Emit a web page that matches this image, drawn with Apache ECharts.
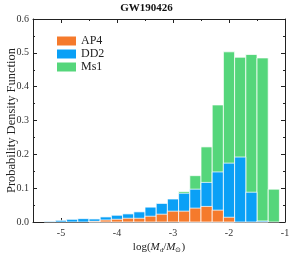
<!DOCTYPE html>
<html><head><meta charset="utf-8">
<script src="https://cdn.jsdelivr.net/npm/echarts@6/dist/echarts.min.js"></script>
<style>html,body{margin:0;padding:0;background:#fff}#c{width:293px;height:256px}</style>
</head><body><div id="c"></div>
<script>
const binEdges = [-5.3,-5.1,-4.9,-4.7,-4.5,-4.3,-4.1,-3.9,-3.7,-3.5,-3.3,-3.1,-2.9,-2.7,-2.5,-2.3,-2.1,-1.9,-1.7,-1.5,-1.3,-1.1];
const ap4 = [0,0,0,0,0.002,0.006,0.008,0.011,0.011,0.017,0.023,0.032,0.032,0.041,0.046,0.035,0.014,0,0,0,0];
const dd2 = [0.002,0.005,0.008,0.010,0.009,0.015,0.020,0.024,0.030,0.044,0.055,0.068,0.085,0.097,0.117,0.148,0.174,0.192,0.088,0.003,0];
const ms1 = [0,0,0,0,0,0,0,0,0,0,0,0,0.090,0.137,0.222,0.346,0.503,0.487,0.495,0.485,0.097];
const majorX = [-5,-4,-3,-2,-1];
const minorX = [-5.5,-4.5,-3.5,-2.5,-1.5];
const seriesNames = ['AP4','DD2','Ms1'];
const colors = {AP4:'#F57A2C', DD2:'#0AA0F6', Ms1:'#55D67B'};

const font = 'Liberation Serif';
function toData(vals){ return vals.map((v,i)=>[binEdges[i], binEdges[i+1], v]); }
function mk(name, vals){
  return {
    name, type:'custom', xAxisIndex:0, yAxisIndex:0,
    itemStyle:{color:colors[name]},
    encode:{x:[0,1], y:2},
    data: toData(vals),
    renderItem(params, api){
      const x0=api.value(0), x1=api.value(1), y=api.value(2);
      if (y<=0) return null;
      const p0=api.coord([x0,y]), p1=api.coord([x1,0]);
      return {type:'rect', shape:{x:p0[0], y:p0[1], width:p1[0]-p0[0], height:p1[1]-p0[1]},
        style:{fill:colors[name], stroke:'rgba(255,255,255,0.75)', lineWidth:1}};
    }
  };
}
const axLine = {show:true, lineStyle:{color:'#222', width:1}};
const xBase = {type:'value', min:-5.5, max:-1, splitLine:{show:false}, axisLine:axLine};
const chart = echarts.init(document.getElementById('c'));
chart.setOption({
  animation:false,
  textStyle:{fontFamily:font},
  title:{text:'GW190426', left:'center', top:-2, textStyle:{fontFamily:font, fontWeight:'bold', fontSize:11, color:'#111'}},
  legend:{data:seriesNames, orient:'vertical', left:52, top:30, icon:'rect', itemWidth:19, itemHeight:9, itemGap:1,
    textStyle:{fontFamily:font, fontSize:12, color:'#222'}},
  grid:{left:33, right:8, top:19, bottom:34, containLabel:false, outerBoundsMode:'none'},
  xAxis:[
    Object.assign({}, xBase, {position:'bottom', name:'{n|log(}{i|M}{s|d}{n|/}{i|M}{s|⊙}{n|)}', nameLocation:'middle', nameGap:19, nameMoveOverlap:false,
      nameTextStyle:{rich:{n:{fontFamily:font,fontSize:11,color:'#222'}, i:{fontFamily:font,fontSize:11,fontStyle:'italic',color:'#222'}, s:{fontFamily:font,fontSize:7,color:'#222',verticalAlign:'bottom',padding:[6,0,0,0]}}},
      axisTick:{show:true, inside:true, length:4, customValues:majorX, lineStyle:{color:'#222'}},
      axisLabel:{customValues:majorX, fontFamily:font, fontSize:10, color:'#333', margin:6, formatter:v=>String(v)}}),
    Object.assign({}, xBase, {position:'bottom', axisLine:{show:false},
      axisTick:{show:true, inside:true, length:2, customValues:minorX, lineStyle:{color:'#222'}}, axisLabel:{show:false}}),
    Object.assign({}, xBase, {position:'top',
      axisTick:{show:true, inside:true, length:4, customValues:majorX, lineStyle:{color:'#222'}}, axisLabel:{show:false}}),
    Object.assign({}, xBase, {position:'top', axisLine:{show:false},
      axisTick:{show:true, inside:true, length:2, customValues:minorX, lineStyle:{color:'#222'}}, axisLabel:{show:false}})
  ],
  yAxis:[
    {type:'value', min:0, max:0.6, interval:0.1, position:'left', splitLine:{show:false}, axisLine:axLine,
     name:'Probability Density Function', nameLocation:'middle', nameGap:15, nameMoveOverlap:false, nameTextStyle:{fontFamily:font, fontSize:12.5, color:'#222'},
     axisTick:{show:true, inside:true, length:4, lineStyle:{color:'#222'}},
     minorTick:{show:true, splitNumber:2, length:2, lineStyle:{color:'#222'}},
     axisLabel:{fontFamily:font, fontSize:10, color:'#333', margin:4, formatter:v=>v.toFixed(1)}},
    {type:'value', min:0, max:0.6, interval:0.1, position:'right', splitLine:{show:false}, axisLine:axLine,
     axisTick:{show:true, inside:true, length:4, lineStyle:{color:'#222'}},
     minorTick:{show:true, splitNumber:2, length:2, lineStyle:{color:'#222'}},
     axisLabel:{show:false}}
  ],
  series:[mk('Ms1', ms1), mk('DD2', dd2), mk('AP4', ap4)]
});
</script></body></html>
